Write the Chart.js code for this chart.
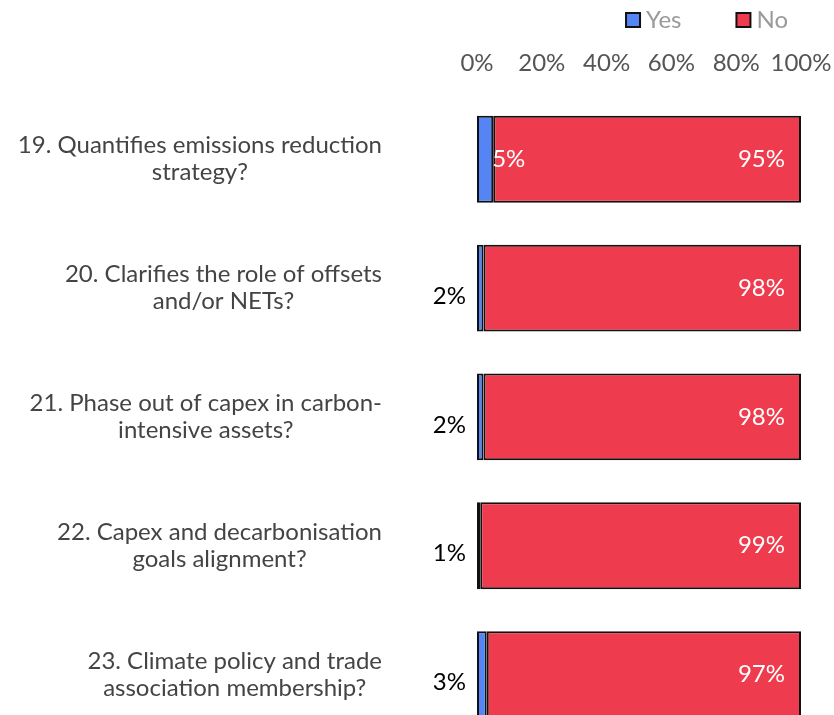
<!DOCTYPE html>
<html>
<head>
<meta charset="utf-8">
<script src="https://cdn.jsdelivr.net/npm/chart.js@4/dist/chart.umd.min.js"></script>
<style>
  html, body { margin: 0; padding: 0; background: #fff; overflow: hidden; }
  #wrap { width: 834px; height: 745px; position: relative; }
</style>
</head>
<body>
<div id="wrap"><canvas id="myChart"></canvas></div>
<script>
// questions (each line of the label is one entry)
const questions = [
  ['19. Quantifies emissions reduction', 'strategy?'],
  ['20. Clarifies the role of offsets', 'and/or NETs?'],
  ['21. Phase out of capex in carbon-', 'intensive assets?'],
  ['22. Capex and decarbonisation', 'goals alignment?'],
  ['23. Climate policy and trade', 'association membership?']
];
const yesVals = [5, 2, 2, 1, 3];
const noVals = [95, 98, 98, 99, 97];
const tickVals = [0, 20, 40, 60, 80, 100];

const fontFam = 'Lato, "Open Sans", sans-serif';

// legend at the top right, drawn by hand so the gaps match
const legendPlugin = {
  id: 'legendPlugin',
  afterDraw(chart) {
    const ctx = chart.ctx;
    const sets = chart.data.datasets;
    ctx.save();
    ctx.font = '24px ' + fontFam;
    ctx.textBaseline = 'middle';
    ctx.textAlign = 'left';
    const y = 20;
    const box = 14;
    let x = chart.chartArea.right - 13;
    for (let i = sets.length - 1; i >= 0; i--) {
      const w = ctx.measureText(sets[i].label).width;
      x -= w;
      ctx.fillStyle = '#9a9a9a';
      ctx.fillText(sets[i].label, x, y);
      x -= 6 + box;
      ctx.fillStyle = sets[i].backgroundColor;
      ctx.fillRect(x, y - box / 2, box, box);
      ctx.lineWidth = 2;
      ctx.strokeStyle = '#111';
      ctx.strokeRect(x, y - box / 2, box, box);
      x -= 55;
    }
    ctx.restore();
  }
};

// draws the question labels (centred lines, right edge on the same line) and the % labels
const labelsPlugin = {
  id: 'labelsPlugin',
  afterDatasetsDraw(chart) {
    const ctx = chart.ctx;
    const yScale = chart.scales.y;
    const right = chart.chartArea.left - 95;
    ctx.save();
    ctx.font = '24px ' + fontFam;
    ctx.fillStyle = '#444';
    ctx.textAlign = 'center';
    ctx.textBaseline = 'middle';
    questions.forEach(function (lines, i) {
      let widest = 0;
      lines.forEach(function (l) { widest = Math.max(widest, ctx.measureText(l).width); });
      const cx = right - widest / 2;
      const cy = yScale.getPixelForValue(i);
      const lh = 27;
      lines.forEach(function (l, j) {
        ctx.fillText(l, cx, cy + (j - (lines.length - 1) / 2) * lh);
      });
    });

    const yesMeta = chart.getDatasetMeta(0);
    const noMeta = chart.getDatasetMeta(1);
    ctx.font = '24px ' + fontFam;
    yesMeta.data.forEach(function (bar, i) {
      const p = bar.getProps(['x', 'y', 'base'], true);
      if (yesVals[i] >= 5) {
        ctx.fillStyle = '#fff';
        ctx.textAlign = 'left';
        ctx.fillText(yesVals[i] + '%', p.x - 1, p.y);
      } else {
        ctx.fillStyle = '#000';
        ctx.textAlign = 'right';
        ctx.fillText(yesVals[i] + '%', p.base - 11, p.y + 8);
      }
    });
    noMeta.data.forEach(function (bar, i) {
      const p = bar.getProps(['x', 'y'], true);
      ctx.fillStyle = '#fff';
      ctx.textAlign = 'right';
      ctx.fillText(noVals[i] + '%', p.x - 16, p.y);
    });
    ctx.restore();
  }
};

const ctx = document.getElementById('myChart');
const myChart = new Chart(ctx, {
  type: 'bar',
  data: {
    labels: questions,
    datasets: [
      { label: 'Yes', data: yesVals, backgroundColor: '#5585f5', borderColor: '#111', borderWidth: 2, borderSkipped: false },
      { label: 'No', data: noVals, backgroundColor: '#ee3b4d', borderColor: '#111', borderWidth: 2, borderSkipped: false }
    ]
  },
  options: {
    indexAxis: 'y',
    responsive: true,
    maintainAspectRatio: false,
    animation: false,
    barPercentage: 0.674,
    categoryPercentage: 1,
    layout: { padding: { left: 477, right: 33, top: 40, bottom: 6 } },
    scales: {
      x: {
        position: 'top',
        stacked: true,
        min: 0,
        max: 100,
        afterBuildTicks(scale) { scale.ticks = tickVals.map(v => ({ value: v })); },
        afterFit(scale) { scale.paddingLeft = 0; scale.paddingRight = 0; },
        ticks: {
          font: { family: fontFam, size: 24 },
          color: '#555',
          padding: 9,
          maxRotation: 0,
          autoSkip: false,
          callback: v => v + '%'
        },
        grid: { display: false },
        border: { display: false }
      },
      y: {
        stacked: true,
        display: false
      }
    },
    plugins: {
      legend: { display: false },
      tooltip: { enabled: false }
    }
  },
  plugins: [labelsPlugin, legendPlugin]
});
</script>
</body>
</html>
